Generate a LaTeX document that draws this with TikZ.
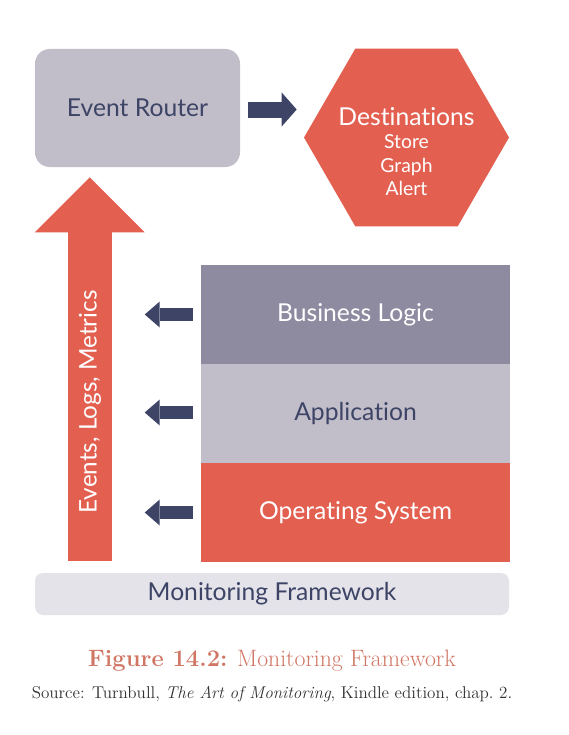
\documentclass[tikz,border=0pt]{standalone}
\usepackage{fontspec}
\newfontfamily\diagfont[Ligatures={NoCommon,NoContextual}]{Lato}
\usetikzlibrary{shapes.geometric,arrows.meta,calc}
\definecolor{navy}{HTML}{3D4466}
\definecolor{coral}{HTML}{E36051}
\definecolor{lightp}{HTML}{C1BECA}
\definecolor{midp}{HTML}{8E8BA1}
\definecolor{paleg}{HTML}{E4E3EA}
\definecolor{capc}{HTML}{D17664}
\definecolor{srcc}{HTML}{333333}
\tikzset{
  layer/.style={rectangle, inner sep=0pt, minimum width=231.75pt, minimum height=74.25pt, font=\diagfont\fontsize{18.5}{22}\selectfont},
  rarrow/.style={draw=navy, line width=12pt, -{Triangle[width=25.5pt,length=11.25pt,line width=0pt]}},
  larrow/.style={draw=navy, line width=9.75pt, -{Triangle[width=19.5pt,length=11.25pt,line width=0pt]}},
  bigarrow/.style={draw=coral, line width=33pt, -{Triangle[width=82.5pt,length=41.25pt,line width=0pt]}}
}
\begin{document}
\begin{tikzpicture}[x=0.75pt,y=-0.75pt]
\useasboundingbox[fill=white] (0,0) rectangle (568,735);
% Event router
\node[rectangle, rounded corners=11pt, fill=lightp, minimum width=153.75pt, minimum height=88.5pt, inner sep=0pt, text=navy, font=\diagfont\fontsize{18.5}{22}\selectfont] (er) at (137.5,108) {Event Router};
% Destinations hexagon
\node[regular polygon, regular polygon sides=6, minimum size=153.75pt, inner sep=0pt, fill=coral] (dest) at (406.5,137.5) {};
\node[text=white, align=center, font=\diagfont\fontsize{14.5}{17.6}\selectfont] (desttext) at ($(dest.center)+(0,14)$) {{\fontsize{18.5}{17.6}\selectfont Destinations}\\Store\\Graph\\Alert};
% Layers
\node[layer, fill=midp, text=white] (bl) at (355.5,314.5) {Business Logic};
\node[layer, fill=lightp, text=navy] (app) at (355.5,413.5) {Application};
\node[layer, fill=coral, text=white] (os) at (355.5,512.5) {Operating System};
% Monitoring framework
\node[rectangle, rounded corners=6pt, fill=paleg, minimum width=355.5pt, minimum height=31.5pt, inner sep=0pt, text=navy, font=\diagfont\fontsize{18.5}{22}\selectfont] (mf) at (272,594) {Monitoring Framework};
% Big arrow
\draw[bigarrow] ($(mf.north west)+(55,-12)$) coordinate (bigstart) -- ($(er.south west)+(55,10)$) coordinate (bigend);
\node[rotate=90, text=white, font=\diagfont\fontsize{18.2}{20}\selectfont] (elm) at (90,402) {Events, Logs, Metrics};
% Arrows
\draw[rarrow] ($(er.east)+(8,1.5)$) -- ($(dest.west)+(-7,-28)$);
\draw[larrow] ($(bl.west)+(-8,0)$) -- ($(bl.west)+(-56,0)$);
\draw[larrow] ($(app.west)+(-8,-1)$) -- ($(app.west)+(-56,-1)$);
\draw[larrow] ($(os.west)+(-8,0)$) -- ($(os.west)+(-56,0)$);
% Caption
\node[text=capc, font=\fontsize{17.8}{20}\selectfont] (cap) at (272,661) {\textbf{Figure 14.2:} Monitoring Framework};
\node[text=srcc, font=\fontsize{12.8}{14}\selectfont] (src) at (272,694) {Source: Turnbull, \textit{The Art of Monitoring}, Kindle edition, chap.~2.};
\end{tikzpicture}
\end{document}
